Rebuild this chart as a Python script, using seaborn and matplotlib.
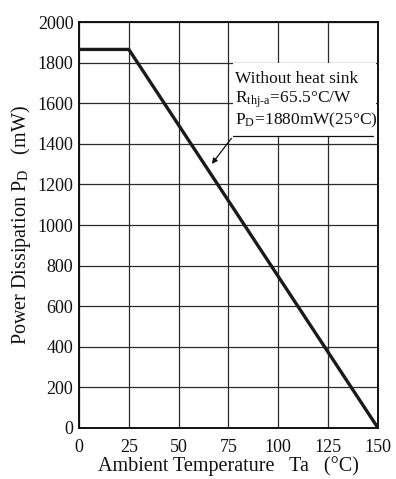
import matplotlib
matplotlib.use("Agg")
import matplotlib.pyplot as plt
import seaborn as sns
import pandas as pd
from matplotlib.patches import Rectangle

temps = [0, 25, 150]
power = [1865, 1865, 0]
xticks = [0, 25, 50, 75, 100, 125, 150]
yticks = [0, 200, 400, 600, 800, 1000, 1200, 1400, 1600, 1800, 2000]

sns.set_theme(style="white")
plt.rcParams['font.family'] = ['Liberation Serif', 'DejaVu Serif']
plt.rcParams['mathtext.fontset'] = 'stix'

fig = plt.figure(figsize=(3.96, 4.79), dpi=100)
ax = fig.add_axes([0.1995, 0.1065, 0.755, 0.8475])

df = pd.DataFrame({"Ta": temps, "PD": power})
sns.lineplot(data=df, x="Ta", y="PD", ax=ax, color="#1a1a1a", linewidth=2.4, zorder=5)

ax.set_xlim(0, 150)
ax.set_ylim(0, 2000)
ax.set_xticks(xticks)
ax.set_yticks(yticks)
ax.set_xticklabels([str(t) for t in xticks], fontsize=13)
ax.set_yticklabels([str(t) for t in yticks], fontsize=13)
ax.grid(True, color="#2a2a2a", linewidth=0.9)
ax.set_axisbelow(True)
for s in ax.spines.values():
    s.set_color("#111111")
    s.set_linewidth(1.4)
ax.tick_params(axis='both', length=0, colors="#111111")
ax.tick_params(axis='x', pad=8)
ax.tick_params(axis='y', pad=4)

ax.set_xlabel("Ambient Temperature   Ta   (°C)", fontsize=14.5, color="#111111", labelpad=0)
ax.set_ylabel("Power Dissipation P$_\\mathregular{D}$   (mW)", fontsize=14.5, color="#111111", labelpad=3)

# white box under annotation text
ax.add_patch(Rectangle((77.3, 1440), 71.5, 360, facecolor="white", edgecolor="none", zorder=3))
ax.text(78.3, 1699, "Without heat sink", fontsize=12.5, va="baseline", zorder=6, color="#111111")
ax.text(78.3, 1604, "R$_\\mathregular{thj\\text{-}a}$=65.5°C/W", fontsize=12.5, va="baseline", zorder=6, color="#111111")
ax.text(78.3, 1497, "P$_\\mathregular{D}$=1880mW(25°C)", fontsize=12.5, va="baseline", zorder=6, color="#111111")
ax.plot([77.3, 147.5], [1438, 1438], color="#111111", linewidth=0.9, zorder=6)
ax.annotate("", xy=(65.8, 1290), xytext=(77.3, 1438),
            arrowprops=dict(arrowstyle="-|>", color="#111111", lw=0.9, mutation_scale=8), zorder=6)

fig.savefig("out.png", dpi=100)
